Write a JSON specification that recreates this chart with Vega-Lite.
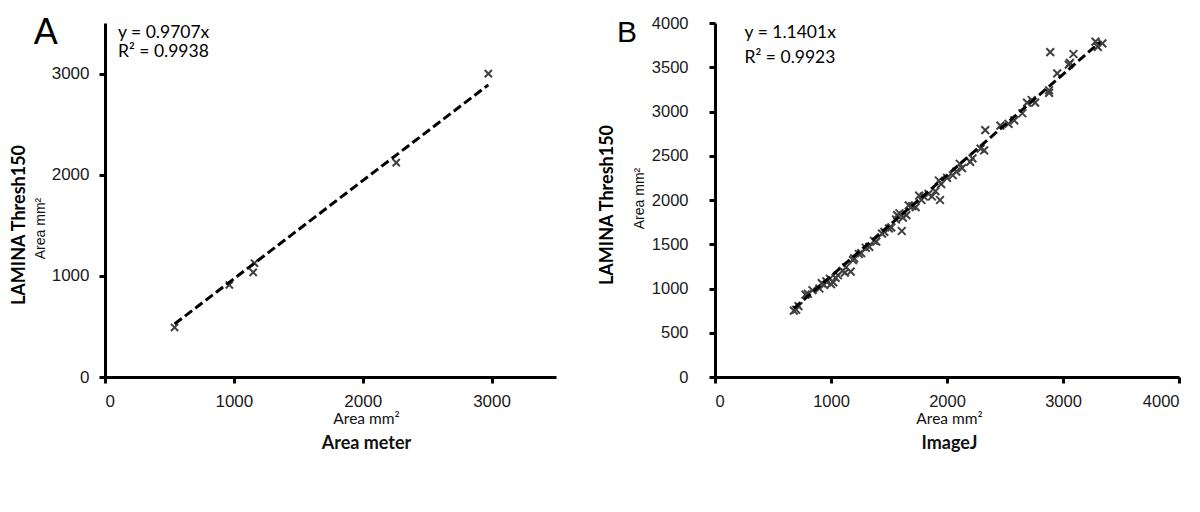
{
"$schema":"https://vega.github.io/schema/vega-lite/v6.json",
"autosize":{"type":"pad"},
"padding":{"left":11,"top":15,"right":5,"bottom":5},
"background":"white",
"bounds":"flush",
"spacing":159,
"config":{"view":{"stroke":null},"axis":{"domainColor":"black","domainWidth":3,"tickColor":"black","tickWidth":3,"tickSize":6,"grid":false,"format":"d","labelFont":"Liberation Sans","labelColor":"#1a1a1a","labelFontSize":17,"titleColor":"#111","titleFontWeight":"normal"}},
"datasets":{
"a_points":[{"x":540,"y":490},{"x":965,"y":910},{"x":1150,"y":1035},{"x":1160,"y":1125},{"x":2260,"y":2120},{"x":2975,"y":3000}],
"a_trend":[{"x":540,"y":524},{"x":2975,"y":2888}],
"a_notes":[{"x":101,"y":3400,"label":"y = 0.9707x"},{"x":101,"y":3212,"label":"R² = 0.9938"}],
"a_tag":[{"x":-552,"y":3400,"label":"A"}],
"b_points":[{"x":680,"y":750},{"x":700,"y":760},{"x":720,"y":800},{"x":780,"y":930},{"x":800,"y":940},{"x":840,"y":980},{"x":900,"y":1000},{"x":920,"y":1060},{"x":940,"y":1040},{"x":960,"y":1080},{"x":990,"y":1110},{"x":1000,"y":1050},{"x":1020,"y":1070},{"x":1040,"y":1120},{"x":1060,"y":1150},{"x":1100,"y":1200},{"x":1120,"y":1180},{"x":1130,"y":1240},{"x":1170,"y":1190},{"x":1190,"y":1320},{"x":1200,"y":1340},{"x":1240,"y":1390},{"x":1260,"y":1400},{"x":1300,"y":1460},{"x":1330,"y":1470},{"x":1370,"y":1540},{"x":1390,"y":1530},{"x":1440,"y":1620},{"x":1460,"y":1640},{"x":1500,"y":1680},{"x":1520,"y":1690},{"x":1560,"y":1780},{"x":1570,"y":1830},{"x":1590,"y":1850},{"x":1610,"y":1650},{"x":1620,"y":1800},{"x":1650,"y":1830},{"x":1670,"y":1940},{"x":1700,"y":1930},{"x":1730,"y":1920},{"x":1760,"y":2050},{"x":1780,"y":2000},{"x":1800,"y":2040},{"x":1840,"y":2070},{"x":1870,"y":2040},{"x":1900,"y":2100},{"x":1930,"y":2220},{"x":1940,"y":2000},{"x":1950,"y":2180},{"x":2000,"y":2250},{"x":2050,"y":2280},{"x":2080,"y":2320},{"x":2110,"y":2410},{"x":2130,"y":2360},{"x":2200,"y":2430},{"x":2220,"y":2470},{"x":2290,"y":2580},{"x":2320,"y":2560},{"x":2330,"y":2790},{"x":2460,"y":2840},{"x":2530,"y":2860},{"x":2580,"y":2900},{"x":2650,"y":2980},{"x":2690,"y":3100},{"x":2730,"y":3130},{"x":2760,"y":3100},{"x":2880,"y":3210},{"x":2880,"y":3240},{"x":2890,"y":3670},{"x":2950,"y":3430},{"x":3050,"y":3530},{"x":3060,"y":3550},{"x":3090,"y":3650},{"x":3280,"y":3790},{"x":3300,"y":3730},{"x":3340,"y":3770}],
"b_trend":[{"x":680,"y":775},{"x":3320,"y":3785}],
"b_notes":[{"x":255,"y":3887,"label":"y = 1.1401x"},{"x":255,"y":3605,"label":"R² = 0.9923"}],
"b_tag":[{"x":-845,"y":3887,"label":"B"}]
},
"hconcat":[
{
 "width":451,"height":354,
 "title":{"text":"LAMINA Thresh150","orient":"left","anchor":"middle","frame":"group","offset":4,"dx":-25,"font":"Lato","fontWeight":"bold","fontSize":18,"color":"black"},
 "resolve":{"axis":{"x":"independent"}},
 "layer":[
  {"data":{"name":"a_points"},
   "mark":{"type":"point","shape":"M-1,-1L1,1M-1,1L1,-1","filled":false,"stroke":"#404040","strokeWidth":2,"size":52,"opacity":1},
   "encoding":{
    "x":{"field":"x","type":"quantitative","scale":{"domain":[0,3500],"nice":false},"axis":{"title":"Area mm²","values":[0,1000,2000,3000],"format":"d","labelPadding":10,"labelFontSize":17,"titleFont":"Lato","titleFontSize":15.5,"titlePadding":2,"titleX":261}},
    "y":{"field":"y","type":"quantitative","scale":{"domain":[0,3500],"nice":false},"axis":{"title":"Area mm²","values":[0,1000,2000,3000],"format":"d","labelPadding":10,"labelFontSize":17,"titleFont":"Liberation Sans","titleFontSize":14,"titlePadding":4,"titleY":205}}
   }},
  {"data":{"name":"a_trend"},
   "mark":{"type":"line","color":"black","strokeWidth":3,"strokeDash":[9,4]},
   "encoding":{
    "x":{"field":"x","type":"quantitative","scale":{"domain":[0,3500],"nice":false},"axis":{"title":"Area meter","orient":"bottom","domain":false,"ticks":false,"labels":false,"titleFont":"Lato","titleFontWeight":"bold","titleFontSize":18,"titleX":261,"titlePadding":57}},
    "y":{"field":"y","type":"quantitative","scale":{"domain":[0,3500],"nice":false}}
   }},
  {"data":{"name":"a_notes"},
   "mark":{"type":"text","align":"left","baseline":"middle","font":"Lato","fontSize":17.5,"color":"black"},
   "encoding":{
    "x":{"field":"x","type":"quantitative","scale":{"domain":[0,3500],"nice":false},"axis":null},
    "y":{"field":"y","type":"quantitative","scale":{"domain":[0,3500],"nice":false}},
    "text":{"field":"label"}
   }},
  {"data":{"name":"a_tag"},
   "mark":{"type":"text","align":"left","baseline":"middle","font":"Liberation Sans","fontSize":36,"color":"black"},
   "encoding":{
    "x":{"field":"x","type":"quantitative","scale":{"domain":[0,3500],"nice":false},"axis":null},
    "y":{"field":"y","type":"quantitative","scale":{"domain":[0,3500],"nice":false}},
    "text":{"field":"label"}
   }}
 ]
},
{
 "width":464,"height":354,
 "title":{"text":"LAMINA Thresh150","orient":"left","anchor":"middle","frame":"group","offset":0,"dx":-5,"font":"Lato","fontWeight":"bold","fontSize":18,"color":"black"},
 "resolve":{"axis":{"x":"independent"}},
 "layer":[
  {"data":{"name":"b_points"},
   "mark":{"type":"point","shape":"M-1,-1L1,1M-1,1L1,-1","filled":false,"stroke":"#404040","strokeWidth":2,"size":60,"opacity":1},
   "encoding":{
    "x":{"field":"x","type":"quantitative","scale":{"domain":[0,4000],"nice":false},"axis":{"title":"Area mm²","values":[0,1000,2000,3000,4000],"format":"d","labelPadding":10,"labelFontSize":16.5,"titleFont":"Lato","titleFontSize":15.5,"titlePadding":2,"titleX":234}},
    "y":{"field":"y","type":"quantitative","scale":{"domain":[0,4000],"nice":false},"axis":{"title":"Area mm²","values":[0,500,1000,1500,2000,2500,3000,3500,4000],"format":"d","labelPadding":21,"labelFontSize":16.5,"titleFont":"Liberation Sans","titleFontSize":14,"titlePadding":5,"titleY":175}}
   }},
  {"data":{"name":"b_trend"},
   "mark":{"type":"line","color":"black","strokeWidth":3,"strokeDash":[9,4]},
   "encoding":{
    "x":{"field":"x","type":"quantitative","scale":{"domain":[0,4000],"nice":false},"axis":{"title":"ImageJ","orient":"bottom","domain":false,"ticks":false,"labels":false,"titleFont":"Lato","titleFontWeight":"bold","titleFontSize":18,"titleX":234,"titlePadding":57}},
    "y":{"field":"y","type":"quantitative","scale":{"domain":[0,4000],"nice":false}}
   }},
  {"data":{"name":"b_notes"},
   "mark":{"type":"text","align":"left","baseline":"middle","font":"Lato","fontSize":17.5,"color":"black"},
   "encoding":{
    "x":{"field":"x","type":"quantitative","scale":{"domain":[0,4000],"nice":false},"axis":null},
    "y":{"field":"y","type":"quantitative","scale":{"domain":[0,4000],"nice":false}},
    "text":{"field":"label"}
   }},
  {"data":{"name":"b_tag"},
   "mark":{"type":"text","align":"left","baseline":"middle","font":"Liberation Sans","fontSize":30,"color":"black"},
   "encoding":{
    "x":{"field":"x","type":"quantitative","scale":{"domain":[0,4000],"nice":false},"axis":null},
    "y":{"field":"y","type":"quantitative","scale":{"domain":[0,4000],"nice":false}},
    "text":{"field":"label"}
   }}
 ]
}
]
}
